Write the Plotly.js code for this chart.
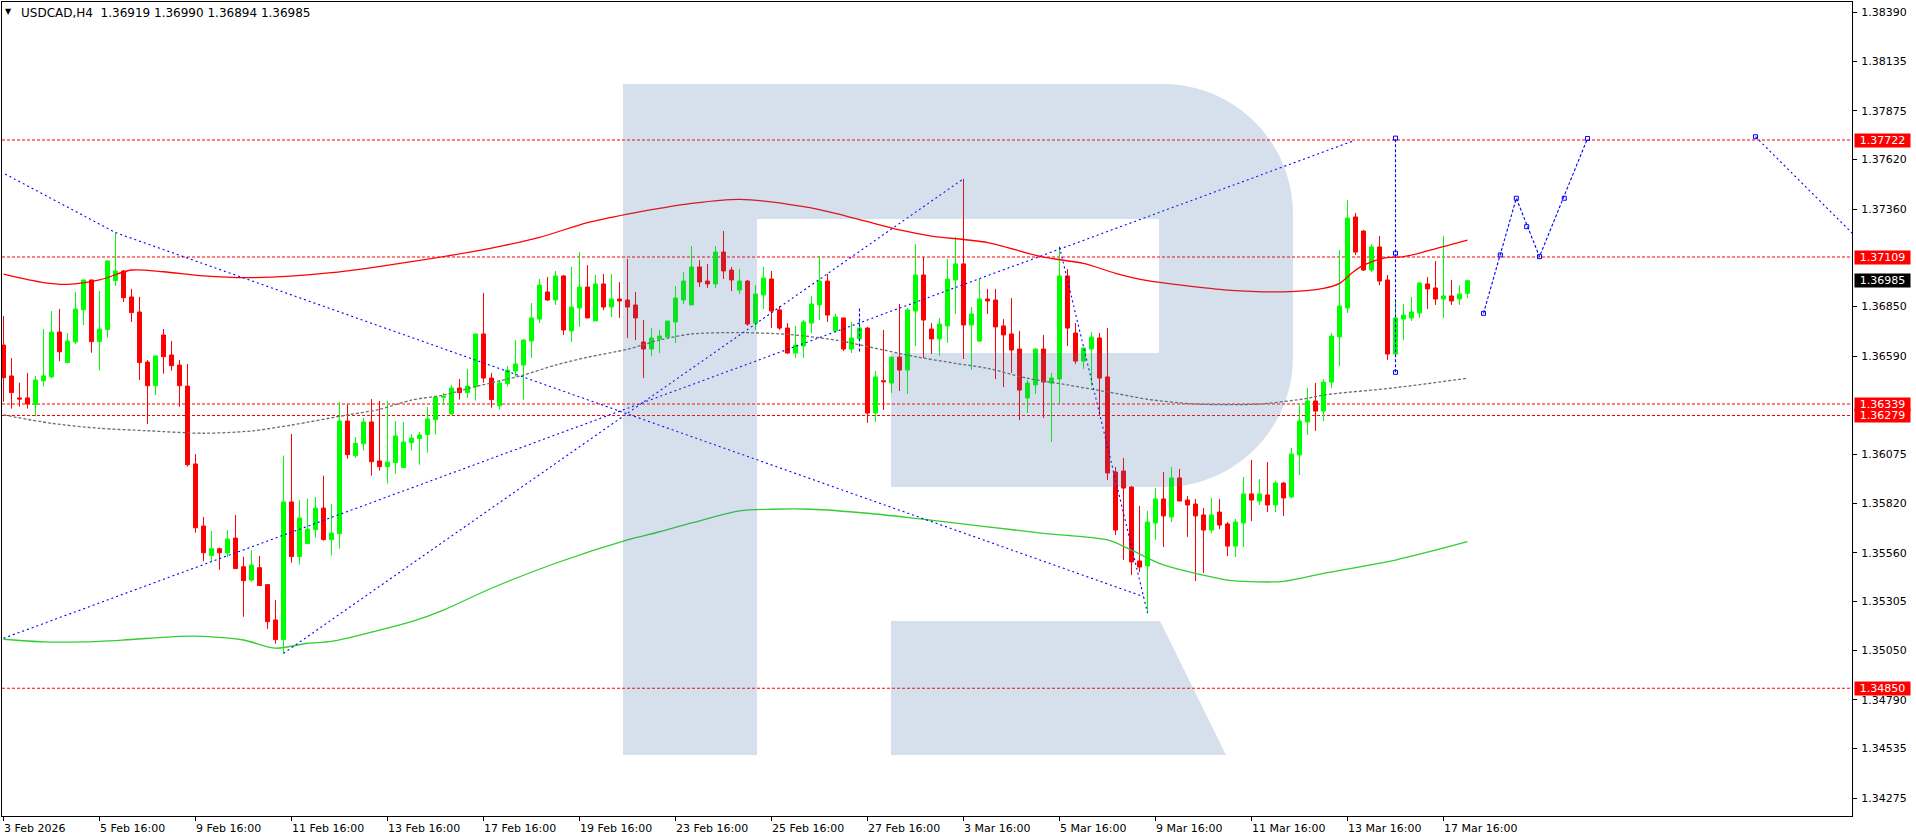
<!DOCTYPE html>
<html>
<head>
<meta charset="utf-8">
<script src="https://cdn.plot.ly/plotly-3.0.1.min.js"></script>
<style>
html,body{margin:0;padding:0;background:#fff;overflow:hidden}
#chart{width:1916px;height:840px}
</style>
</head>
<body>
<div id="chart"></div>
<script>
// ---- USDCAD H4 candles ----
const open = [
1.36648,1.36486,1.36371,1.36371,1.36337,1.36461,1.36481,1.36716,1.36556,1.36664,
1.36833,1.36989,1.36666,1.36729,1.36985,1.37036,1.36900,1.36821,1.36559,1.36435,
1.36701,1.36596,1.36543,1.36433,1.36025,1.35700,1.35545,1.35581,1.35559,1.35637,
1.35487,1.35417,1.35482,1.35393,1.35208,1.35105,1.35826,1.35540,1.35608,1.35681,
1.35794,1.35629,1.35660,1.36250,1.36069,1.36131,1.36245,1.36041,1.36011,1.36032,
1.36006,1.36137,1.36158,1.36179,1.36257,1.36374,1.36287,1.36423,1.36399,1.36430,
1.36706,1.36475,1.36330,1.36446,1.36512,1.36543,1.36669,1.36784,1.36926,1.36884,
1.37010,1.36722,1.36842,1.36952,1.36774,1.36968,1.36847,1.36889,1.36884,1.36858,
1.36664,1.36627,1.36680,1.36690,1.36769,1.36884,1.36858,1.37057,1.36983,1.36968,
1.37135,1.37041,1.36936,1.36983,1.36763,1.36910,1.36994,1.36832,1.36737,1.36606,
1.36643,1.36763,1.36858,1.36983,1.36722,1.36790,1.36627,1.36680,1.36737,1.36292,
1.36461,1.36449,1.36585,1.36517,1.36826,1.37015,1.36732,1.36680,1.36748,1.36989,
1.37073,1.36753,1.36669,1.36889,1.36884,1.36748,1.36706,1.36627,1.36371,1.36439,
1.36627,1.36449,1.36470,1.37010,1.36711,1.36564,1.36627,1.36685,1.36481,1.35983,
1.35988,1.35904,1.35517,1.35491,1.35716,1.35842,1.35747,1.35952,1.35836,1.35815,
1.35758,1.35679,1.35773,1.35711,1.35595,1.35716,1.35868,1.35831,1.35863,1.35810,
1.35925,1.35852,1.36072,1.36245,1.36355,1.36302,1.36454,1.36690,1.36842,1.37319,
1.37245,1.37041,1.37162,1.36989,1.36601,1.36784,1.36790,1.36816,1.36968,1.36947,
1.36889,1.36905,1.36889,1.36919];
const high = [
1.36800,1.36580,1.36451,1.36502,1.36486,1.36732,1.36826,1.36837,1.36711,1.36926,
1.36989,1.36989,1.36931,1.37093,1.37237,1.37041,1.36942,1.36900,1.36570,1.36591,
1.36732,1.36669,1.36570,1.36549,1.36077,1.35747,1.35674,1.35587,1.35679,1.35758,
1.35540,1.35574,1.35543,1.35393,1.35313,1.36069,1.36182,1.35836,1.35842,1.35852,
1.35964,1.35815,1.36350,1.36337,1.36166,1.36266,1.36365,1.36355,1.36355,1.36250,
1.36245,1.36182,1.36193,1.36323,1.36381,1.36397,1.36439,1.36470,1.36523,1.36706,
1.36921,1.36502,1.36465,1.36538,1.36674,1.36680,1.36868,1.36994,1.37004,1.37036,
1.37015,1.37057,1.37135,1.37067,1.37015,1.37020,1.37020,1.36978,1.37099,1.36926,
1.36779,1.36737,1.36727,1.36774,1.36957,1.37031,1.37167,1.37093,1.37073,1.37167,
1.37245,1.37057,1.37046,1.36989,1.36962,1.37057,1.37036,1.36852,1.36763,1.36748,
1.36779,1.36905,1.37114,1.37020,1.36811,1.36790,1.36769,1.36774,1.36743,1.36512,
1.36727,1.36585,1.36863,1.36842,1.37177,1.37109,1.36763,1.36790,1.37099,1.37214,
1.37519,1.36847,1.36994,1.36942,1.36942,1.36784,1.36894,1.36722,1.36465,1.36632,
1.36701,1.36502,1.37162,1.37046,1.36763,1.36638,1.36716,1.36711,1.36737,1.36009,
1.36056,1.35910,1.35805,1.35779,1.35899,1.35983,1.36009,1.35999,1.35857,1.35842,
1.35794,1.35847,1.35842,1.35721,1.35737,1.35957,1.36046,1.35946,1.36035,1.35936,
1.35931,1.36109,1.36339,1.36423,1.36449,1.36470,1.36711,1.37146,1.37408,1.37340,
1.37251,1.37177,1.37219,1.37015,1.36884,1.36863,1.36900,1.36978,1.37004,1.37088,
1.37219,1.36989,1.36962,1.36990];
const low = [
1.36351,1.36315,1.36325,1.36315,1.36275,1.36430,1.36475,1.36564,1.36556,1.36653,
1.36753,1.36608,1.36514,1.36687,1.36957,1.36873,1.36769,1.36465,1.36234,1.36386,
1.36498,1.36514,1.36325,1.36011,1.35665,1.35515,1.35512,1.35471,1.35536,1.35477,
1.35225,1.35409,1.35388,1.35161,1.35084,1.35033,1.35508,1.35498,1.35608,1.35639,
1.35623,1.35545,1.35581,1.36053,1.36058,1.36095,1.35964,1.35990,1.35922,1.35974,
1.36006,1.36095,1.36021,1.36084,1.36179,1.36334,1.36282,1.36362,1.36372,1.36357,
1.36451,1.36320,1.36310,1.36430,1.36482,1.36362,1.36580,1.36763,1.36879,1.36858,
1.36701,1.36664,1.36743,1.36790,1.36774,1.36832,1.36795,1.36790,1.36685,1.36674,
1.36475,1.36591,1.36606,1.36690,1.36659,1.36863,1.36858,1.36952,1.36947,1.36947,
1.36994,1.36931,1.36915,1.36748,1.36727,1.36837,1.36737,1.36727,1.36601,1.36580,
1.36580,1.36711,1.36779,1.36769,1.36716,1.36617,1.36606,1.36674,1.36240,1.36245,
1.36308,1.36397,1.36407,1.36392,1.36643,1.36580,1.36601,1.36591,1.36659,1.36811,
1.36575,1.36517,1.36664,1.36811,1.36470,1.36428,1.36502,1.36255,1.36292,1.36392,
1.36266,1.36140,1.36339,1.36643,1.36549,1.36523,1.36433,1.36276,1.35941,1.35653,
1.35522,1.35443,1.35459,1.35244,1.35627,1.35590,1.35721,1.35831,1.35643,1.35412,
1.35454,1.35663,1.35684,1.35543,1.35538,1.35590,1.35726,1.35810,1.35773,1.35773,
1.35753,1.35847,1.35967,1.36177,1.36198,1.36250,1.36423,1.36538,1.36816,1.37120,
1.37036,1.37031,1.36962,1.36570,1.36596,1.36674,1.36774,1.36790,1.36837,1.36858,
1.36790,1.36858,1.36858,1.36894];
const close = [
1.36477,1.36399,1.36365,1.36339,1.36465,1.36486,1.36716,1.36613,1.36669,1.36837,
1.36989,1.36666,1.36732,1.37088,1.37036,1.36896,1.36818,1.36556,1.36435,1.36591,
1.36587,1.36540,1.36435,1.36021,1.35691,1.35560,1.35581,1.35560,1.35632,1.35477,
1.35414,1.35496,1.35388,1.35199,1.35105,1.35826,1.35540,1.35742,1.35684,1.35794,
1.35629,1.35663,1.36250,1.36074,1.36133,1.36245,1.36037,1.36011,1.36035,1.36172,
1.36140,1.36161,1.36177,1.36261,1.36376,1.36379,1.36423,1.36399,1.36433,1.36706,
1.36475,1.36362,1.36449,1.36517,1.36549,1.36674,1.36790,1.36962,1.36884,1.37010,
1.36727,1.36847,1.36952,1.36790,1.36968,1.36847,1.36889,1.36879,1.36847,1.36790,
1.36627,1.36685,1.36695,1.36774,1.36894,1.36983,1.37057,1.36978,1.36968,1.37135,
1.37036,1.36989,1.36983,1.36758,1.36915,1.36999,1.36826,1.36737,1.36606,1.36648,
1.36769,1.36863,1.36983,1.36805,1.36795,1.36627,1.36685,1.36737,1.36292,1.36481,
1.36456,1.36585,1.36517,1.36832,1.37015,1.36779,1.36680,1.36758,1.36994,1.37073,
1.36753,1.36811,1.36889,1.36879,1.36743,1.36701,1.36622,1.36412,1.36449,1.36627,
1.36454,1.36475,1.37010,1.36737,1.36564,1.36632,1.36690,1.36475,1.35978,1.35679,
1.35899,1.35512,1.35485,1.35721,1.35842,1.35753,1.35952,1.35831,1.35810,1.35753,
1.35679,1.35758,1.35705,1.35595,1.35721,1.35868,1.35836,1.35868,1.35810,1.35925,
1.35847,1.36077,1.36250,1.36355,1.36302,1.36454,1.36695,1.36852,1.37313,1.37135,
1.37041,1.37162,1.36983,1.36601,1.36790,1.36805,1.36821,1.36973,1.36942,1.36889,
1.36905,1.36879,1.36915,1.36985];

// ---- moving averages (sampled along the drawn curves) ----
const maRedIdx = [0,5,8,12,16,20,25,31,41,51,61,67,73,78,82,86,92,100,104,108,112,116,123,130,135,139,143,147,153,160,165,167,168.5,170,172.7,175,178,183];
const maRedVal = [1.37019,1.36975,1.36966,1.36989,1.37041,1.37032,1.37010,1.37001,1.37027,1.37085,1.37156,1.37212,1.37289,1.37334,1.37364,1.37390,1.37411,1.37373,1.37338,1.37294,1.37251,1.37219,1.37185,1.37108,1.37076,1.37024,1.36985,1.36963,1.36936,1.36927,1.36945,1.36971,1.37024,1.37067,1.37105,1.37111,1.37141,1.37197];
const maGrayIdx = [0,6,12,18,25,31,36,43,47,51,55,59,65,69,73,78,82,86,92,98,104,110,114,119,123,128,133,139,143,149,157,163,165,174,183];
const maGrayVal = [1.36282,1.36238,1.36212,1.36199,1.36186,1.36198,1.36229,1.36282,1.36311,1.36360,1.36386,1.36430,1.36491,1.36543,1.36584,1.36626,1.36674,1.36706,1.36713,1.36704,1.36674,1.36622,1.36587,1.36552,1.36526,1.36474,1.36439,1.36395,1.36364,1.36339,1.36339,1.36369,1.36386,1.36425,1.36474];
const maGreenIdx = [0,5,10,15,22,25,30,34,38,41,47,51,55,61,69,78,82,86,92,96,101,108,114,123,130,138,141,145,153,155,160,165,174,183];
const maGreenVal = [1.35107,1.35093,1.35093,1.35103,1.35122,1.35122,1.35103,1.35060,1.35086,1.35096,1.35155,1.35199,1.35260,1.35374,1.35505,1.35627,1.35670,1.35716,1.35779,1.35788,1.35788,1.35767,1.35740,1.35696,1.35662,1.35627,1.35574,1.35496,1.35417,1.35410,1.35410,1.35452,1.35522,1.35618];

// ---- drawn objects: trend lines and forecast (bar index, price) ----
const trendAIdx = [0,168.9],        trendAVal = [1.35112,1.37720];
const trendBIdx = [35,120],         trendBVal = [1.35033,1.37519];
const trendCIdx = [0.2,14,142.5],   trendCVal = [1.37544,1.37237,1.35330];
const trendDIdx = [132,143],        trendDVal = [1.37162,1.35244];
const markEIdx  = [107,107],        markEVal  = [1.36840,1.36613];
const waveVIdx  = [174,174],        waveVVal  = [1.36505,1.37732];
const fcst1Idx  = [185,189.1,192,198], fcst1Val = [1.36814,1.37417,1.37111,1.37730];
const fcst2Idx  = [219,232],        fcst2Val  = [1.37739,1.37196];
const nodeIdx   = [185,187.1,189.1,190.4,192,195.1,198,219,174,174,174];
const nodeVal   = [1.36814,1.37120,1.37417,1.37268,1.37111,1.37417,1.37730,1.37739,1.37732,1.37129,1.36505];

// ---- horizontal levels and labels ----
const levels = [1.37722,1.37109,1.36339,1.36279,1.34850];
const lastPrice = 1.36985;
const priceTicks = [1.38390,1.38135,1.37875,1.37620,1.37360,1.36850,1.36590,1.36075,1.35820,1.35560,1.35305,1.35050,1.34790,1.34535,1.34275];
const timeTickIdx = [0,12,24,36,48,60,72,84,96,108,120,132,144,156,168,180];
const timeTickText = ['3 Feb 2026','5 Feb 16:00','9 Feb 16:00','11 Feb 16:00','13 Feb 16:00','17 Feb 16:00','19 Feb 16:00','23 Feb 16:00','25 Feb 16:00','27 Feb 16:00','3 Mar 16:00','5 Mar 16:00','9 Mar 16:00','11 Mar 16:00','13 Mar 16:00','17 Mar 16:00'];
const titleText = 'USDCAD,H4\u00a0\u00a01.36919\u00a01.36990\u00a01.36894\u00a01.36985';

// ------------------------------------------------------------------
const barIdx = open.map((_, i) => i);
const FONT = 'DejaVu Sans, Verdana, sans-serif';
const blue = '#0000ff';

function line(xs, ys, color, width, dash, shape) {
  return {type:'scatter', mode:'lines', x:xs, y:ys, hoverinfo:'skip',
    line:{color:color, width:width, dash:dash||'solid', shape:shape||'linear', smoothing:0.8}};
}

const traces = [
  line(maGrayIdx, maGrayVal, '#6e6e6e', 1.3, '3px,2px', 'spline'),
  line(maRedIdx, maRedVal, '#ff0000', 1.3, 'solid', 'spline'),
  line(maGreenIdx, maGreenVal, '#32cd32', 1.3, 'solid', 'spline'),
  {type:'candlestick', x:barIdx, open:open, high:high, low:low, close:close,
   whiskerwidth:0, hoverinfo:'skip',
   increasing:{line:{color:'#00ff00', width:1}, fillcolor:'#00ff00'},
   decreasing:{line:{color:'#ff0000', width:1}, fillcolor:'#ff0000'}},
  line(trendAIdx, trendAVal, blue, 1.1, '2px,3px'),
  line(trendBIdx, trendBVal, blue, 1.1, '2px,3px'),
  line(trendCIdx, trendCVal, blue, 1.1, '2px,3px'),
  line(trendDIdx, trendDVal, blue, 1.1, '2px,3px'),
  line(markEIdx, markEVal, blue, 1.1, '3px,2px'),
  line(waveVIdx, waveVVal, blue, 1.1, '3px,2px'),
  line(fcst1Idx, fcst1Val, blue, 1.1, '3px,2px'),
  line(fcst2Idx, fcst2Val, blue, 1.1, '2px,3px'),
  {type:'scatter', mode:'markers', x:nodeIdx, y:nodeVal, hoverinfo:'skip',
   marker:{symbol:'square-open', size:4, color:blue, line:{width:1, color:blue}}}
];

// watermark logo (pixel outline converted to paper fractions of the plot area)
function pp(x, y) { return ((x - 2) / 1850).toFixed(5) + ',' + ((816 - y) / 814).toFixed(5); }
const logoBody = 'M' + pp(623,84) + ' L' + pp(1163,84) +
  ' C' + pp(1234.8,84) + ' ' + pp(1293,142.2) + ' ' + pp(1293,214) +
  ' L' + pp(1293,357) +
  ' C' + pp(1293,428.8) + ' ' + pp(1234.8,487) + ' ' + pp(1163,487) +
  ' L' + pp(891,487) + ' L' + pp(891,353) + ' L' + pp(1159,353) + ' L' + pp(1159,219) +
  ' L' + pp(757,219) + ' L' + pp(757,755) + ' L' + pp(623,755) + ' Z';
const logoLeg = 'M' + pp(891,621) + ' L' + pp(1160,621) + ' L' + pp(1226,755) + ' L' + pp(891,755) + ' Z';

const shapes = levels.map(v => ({type:'line', xref:'paper', x0:0, x1:1, yref:'y', y0:v, y1:v,
  layer:'below', line:{color:'#ff0000', width:1.1, dash:'3px,2px'}}));
shapes.push({type:'path', xref:'paper', yref:'paper', path:logoBody, fillcolor:'rgb(64,114,168)',
  opacity:0.22, line:{width:0}, layer:'above'});
shapes.push({type:'path', xref:'paper', yref:'paper', path:logoLeg, fillcolor:'rgb(64,114,168)',
  opacity:0.22, line:{width:0}, layer:'above'});

const annotations = [];
timeTickIdx.forEach((k, j) => annotations.push({
  x:k, xref:'x', y:0, yref:'paper', xanchor:'left', yanchor:'top', xshift:-2, yshift:-4,
  text:timeTickText[j], showarrow:false, font:{family:FONT, size:11, color:'#000'}}));
levels.forEach(v => annotations.push({
  x:1, xref:'paper', y:v, yref:'y', xanchor:'left', yanchor:'middle', xshift:2,
  text:v.toFixed(5), showarrow:false, bgcolor:'#ff0000', borderpad:0, width:55, height:13,
  font:{family:FONT, size:11, color:'#ffffff'}}));
annotations.push({
  x:1, xref:'paper', y:lastPrice, yref:'y', xanchor:'left', yanchor:'middle', xshift:2,
  text:lastPrice.toFixed(5), showarrow:false, bgcolor:'#000000', borderpad:0, width:55, height:13,
  font:{family:FONT, size:11, color:'#ffffff'}});
annotations.push({x:0, xref:'paper', y:1, yref:'paper', xanchor:'left', yanchor:'top', xshift:1, yshift:-3,
  text:'\u25bc', showarrow:false, font:{family:FONT, size:8, color:'#000'}});
annotations.push({x:0, xref:'paper', y:1, yref:'paper', xanchor:'left', yanchor:'top', xshift:17, yshift:-2,
  text:titleText, showarrow:false, font:{family:FONT, size:12, color:'#000'}});

const layout = {
  width:1916, height:840,
  margin:{l:2, r:64, t:2, b:24, pad:0},
  paper_bgcolor:'#ffffff', plot_bgcolor:'#ffffff',
  showlegend:false, hovermode:false,
  boxgap:0.375, boxgroupgap:0.2,
  xaxis:{range:[-0.1875, 231.0625], showgrid:false, zeroline:false, showline:true, mirror:true,
    linecolor:'#000', linewidth:1, ticks:'outside', ticklen:4, tickcolor:'#000',
    tickmode:'array', tickvals:timeTickIdx, showticklabels:false, rangeslider:{visible:false}, fixedrange:true},
  yaxis:{range:[1.341811, 1.384449], side:'right', showgrid:false, zeroline:false, showline:true, mirror:true,
    linecolor:'#000', linewidth:1, ticks:'outside', ticklen:4, tickcolor:'#000',
    tickmode:'array', tickvals:priceTicks, tickformat:'.5f', ticklabelstandoff:2,
    tickfont:{family:FONT, size:11, color:'#000'}, fixedrange:true},
  shapes:shapes,
  annotations:annotations
};

Plotly.newPlot('chart', traces, layout, {staticPlot:true, displayModeBar:false});
</script>
</body>
</html>
